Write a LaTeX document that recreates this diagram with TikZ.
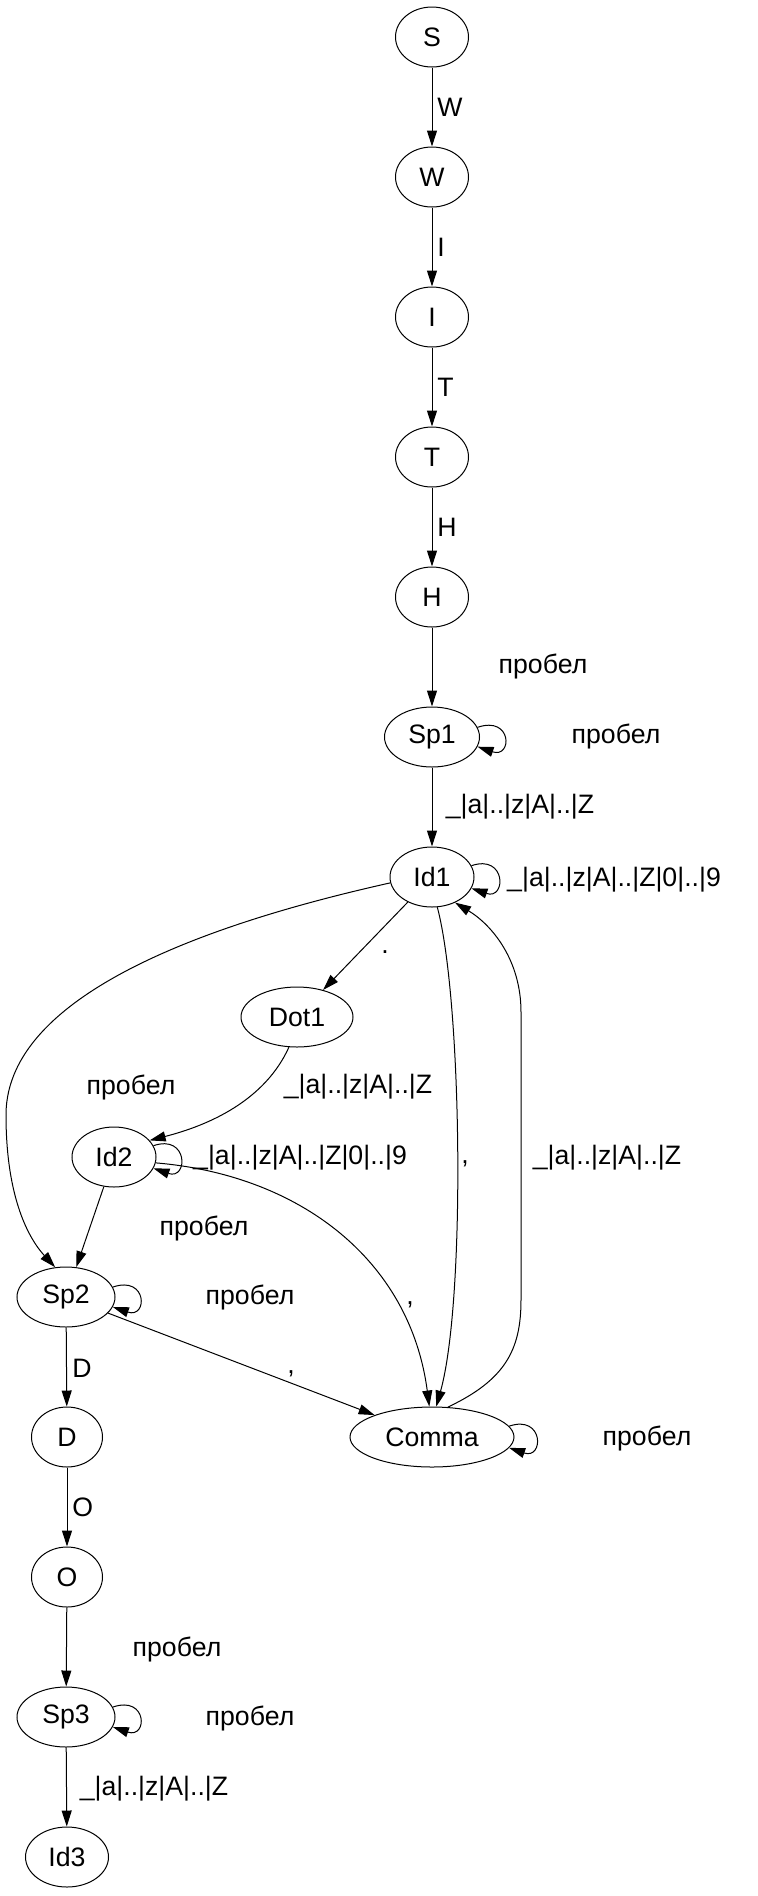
\documentclass[tikz,border=0pt]{standalone}
\usepackage{fontspec}
\setmainfont{Liberation Sans}
\usetikzlibrary{shapes.geometric,arrows.meta}
\begin{document}
\begin{tikzpicture}[x=0.75pt,y=-0.75pt,
  every node/.style={font=\fontsize{20}{24}\selectfont},
  st/.style={ellipse, draw, line width=0.75pt, inner sep=0pt, minimum height=45pt},
  edge/.style={draw, line width=0.75pt, -{Triangle[length=12pt,width=7.5pt]}},
  lbl/.style={inner sep=0pt},
  lblw/.style={inner sep=0pt, anchor=west}]
\useasboundingbox (0,0) rectangle (757,1896);
% states
\node[st, minimum width=54.75pt] (S) at (432,37) {S};
\node[st, minimum width=54.75pt] (W) at (432,177) {W};
\node[st, minimum width=54.75pt] (I) at (432,317) {I};
\node[st, minimum width=54.75pt] (T) at (432,457) {T};
\node[st, minimum width=54.75pt] (H) at (432,597) {H};
\node[st, minimum width=71.25pt] (Sp1) at (432,737) {Sp1};
\node[st, minimum width=63pt] (Id1) at (432,877) {Id1};
\node[st, minimum width=84pt] (Dot1) at (297,1017) {Dot1};
\node[st, minimum width=63pt] (Id2) at (114,1157) {Id2};
\node[st, minimum width=73.5pt] (Sp2) at (66,1297) {Sp2};
\node[st, minimum width=53.25pt] (D) at (67,1437) {D};
\node[st, minimum width=123pt] (Comma) at (432,1437) {Comma};
\node[st, minimum width=53.25pt] (O) at (67,1577) {O};
\node[st, minimum width=73.5pt] (Sp3) at (66,1717) {Sp3};
\node[st, minimum width=62.25pt] (Id3) at (67,1857) {Id3};
% straight edges
\draw[edge] (S) -- (W);
\draw[edge] (W) -- (I);
\draw[edge] (I) -- (T);
\draw[edge] (T) -- (H);
\draw[edge] (H) -- (Sp1);
\draw[edge] (Sp1) -- (Id1);
\draw[edge] (Id1) -- (Dot1);
\draw[edge] (Id2) -- (Sp2);
\draw[edge] (Sp2) -- (Comma);
\draw[edge] (Sp2) -- (D);
\draw[edge] (D) -- (O);
\draw[edge] (O) -- (Sp3);
\draw[edge] (Sp3) -- (Id3);
% curved edges
\coordinate (lft) at (6,1115);
\draw[edge] (Id1.188) .. controls (242,916) and (6,985) .. (lft)
  .. controls (6,1200) and (30,1240) .. (Sp2.110);
\draw[edge] (Dot1.255) .. controls (265,1100) and (210,1125) .. (Id2.25);
\draw[edge] (Id2.-8) .. controls (300,1175) and (410,1260) .. (Comma.95);
\draw[edge] (Id1.-80) .. controls (462,1000) and (466,1300) .. (Comma.82);
\coordinate (rb) at (521,1300);
\coordinate (rt) at (521,1012);
\draw[edge] (Comma.62) .. controls (505,1380) and (521,1350) .. (rb) -- (rt)
  .. controls (521,960) and (492,925) .. (Id1.-48);
% self loops
\draw[edge] (Sp1.12) .. controls +(35,-12) and +(35,12) .. (Sp1.-12);
\draw[edge] (Id1.16) .. controls +(35,-12) and +(35,12) .. (Id1.-16);
\draw[edge] (Id2.16) .. controls +(35,-12) and +(35,12) .. (Id2.-16);
\draw[edge] (Sp2.12) .. controls +(35,-12) and +(35,12) .. (Sp2.-12);
\draw[edge] (Comma.8) .. controls +(35,-12) and +(35,12) .. (Comma.-8);
\draw[edge] (Sp3.12) .. controls +(35,-12) and +(35,12) .. (Sp3.-12);
% labels
\node[lblw] (lW) at (437,107) {W};
\node[lblw] (lI) at (437,247) {I};
\node[lblw] (lT) at (437,387) {T};
\node[lblw] (lH) at (437,527) {H};
\node[lbl] (lHSp1) at (543,666) {пробел};
\node[lbl] (lSp1) at (616,736) {пробел};
\node[lbl] (lSp1Id1) at (520,807) {\_|a|..|z|A|..|Z};
\node[lbl] (lId1) at (614,880) {\_|a|..|z|A|..|Z|0|..|9};
\node[lbl] (lDot) at (385,952) {.};
\node[lbl] (lId1Sp2) at (131,1087) {пробел};
\node[lbl] (lDot1Id2) at (358,1087) {\_|a|..|z|A|..|Z};
\node[lbl] (lId2) at (300,1158) {\_|a|..|z|A|..|Z|0|..|9};
\node[lbl] (lId1Comma) at (465,1164) {,};
\node[lbl] (lCommaId1) at (607,1158) {\_|a|..|z|A|..|Z};
\node[lbl] (lId2Sp2) at (204,1228) {пробел};
\node[lbl] (lSp2) at (250,1297) {пробел};
\node[lbl] (lId2Comma) at (410,1305) {,};
\node[lbl] (lSp2Comma) at (291,1374) {,};
\node[lblw] (lD) at (72,1368) {D};
\node[lbl] (lComma) at (647,1438) {пробел};
\node[lblw] (lO) at (72,1507) {O};
\node[lbl] (lOSp3) at (177,1649) {пробел};
\node[lbl] (lSp3) at (250,1718) {пробел};
\node[lbl] (lSp3Id3) at (154,1789) {\_|a|..|z|A|..|Z};
\end{tikzpicture}
\end{document}
